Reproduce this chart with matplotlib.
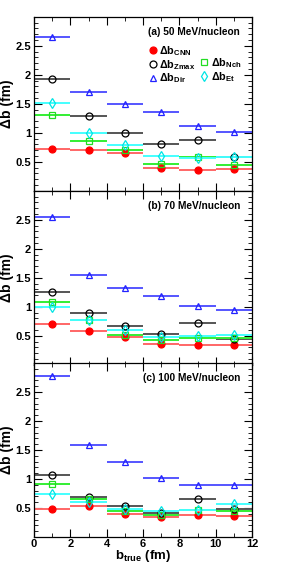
import numpy as np
import matplotlib
matplotlib.use("Agg")
import matplotlib.pyplot as plt
from matplotlib.ticker import MultipleLocator
from matplotlib.lines import Line2D

plt.rcParams['font.family'] = ['Liberation Sans', 'DejaVu Sans']
plt.rcParams['mathtext.fontset'] = 'custom'
plt.rcParams['mathtext.rm'] = 'Liberation Sans:bold'
plt.rcParams['mathtext.bf'] = 'Liberation Sans:bold'
plt.rcParams['mathtext.it'] = 'Liberation Sans:bold'

b_true = [1, 3, 5, 7, 9, 11]
bin_half = 1.0

panel_titles = ["(a) 50 MeV/nucleon", "(b) 70 MeV/nucleon", "(c) 100 MeV/nucleon"]

# resolution per method, one list per energy
cnn = [[0.72, 0.71, 0.65, 0.39, 0.36, 0.37],
       [0.71, 0.58, 0.48, 0.36, 0.345, 0.345],
       [0.49, 0.53, 0.40, 0.35, 0.38, 0.355]]
zmax = [[1.93, 1.29, 1.00, 0.81, 0.87, 0.575],
        [1.25, 0.90, 0.67, 0.53, 0.72, 0.45],
        [1.07, 0.69, 0.54, 0.41, 0.65, 0.49]]
nch = [[1.30, 0.86, 0.71, 0.46, 0.575, 0.44],
       [1.08, 0.77, 0.52, 0.43, 0.455, 0.455],
       [0.91, 0.66, 0.455, 0.375, 0.465, 0.44]]
bdir = [[2.65, 1.71, 1.50, 1.36, 1.11, 1.02],
        [2.54, 1.55, 1.33, 1.19, 1.01, 0.95],
        [2.78, 1.58, 1.30, 1.02, 0.90, 0.90]]
et = [[1.52, 0.99, 0.79, 0.60, 0.56, 0.575],
      [1.00, 0.77, 0.60, 0.48, 0.49, 0.51],
      [0.74, 0.60, 0.48, 0.45, 0.465, 0.57]]

series = [
    ("CNN", cnn, "#ff0000", "o", "#ff0000", "#ff6666"),
    ("Zmax", zmax, "#000000", "o", "none", "#555555"),
    ("Nch", nch, "#22dd22", "s", "none", "#33ee33"),
    ("Dir", bdir, "#2222ff", "^", "none", "#5555ff"),
    ("Et", et, "#00e5e5", "d", "none", "#44ffff"),
]

fig = plt.figure(figsize=(2.87, 5.63), dpi=100)
left, width, h = 0.1185, 0.7596, 0.309
bottoms = [0.6612, 0.3522, 0.0462]

for k in range(3):
    ax = fig.add_axes([left, bottoms[k], width, h])
    handles = {}
    for name, vals, col, mk, fc, lc in series:
        ax.errorbar(b_true, vals[k], xerr=bin_half, fmt='none', ecolor=lc,
                    elinewidth=1.4, capsize=0, zorder=2)
        ln, = ax.plot(b_true, vals[k], linestyle='none', marker=mk, ms=5,
                      mfc=fc, mec=col, mew=0.9, zorder=3)
        handles[name] = ln
    ax.set_xlim(0, 12)
    ax.set_ylim(0, 3)
    ax.xaxis.set_major_locator(MultipleLocator(2))
    ax.xaxis.set_minor_locator(MultipleLocator(1))
    ax.yaxis.set_major_locator(MultipleLocator(0.5))
    ax.yaxis.set_minor_locator(MultipleLocator(0.1))
    ax.tick_params(which='both', direction='in', top=True, right=True,
                   labelsize=8, pad=2)
    ax.tick_params(axis='x', pad=1.5)
    ax.tick_params(which='major', length=6, width=0.8)
    ax.tick_params(which='minor', length=3, width=0.6)
    ax.set_yticks([0.5, 1, 1.5, 2, 2.5])
    ax.set_yticklabels(["0.5", "1", "1.5", "2", "2.5"], fontweight='bold')
    if k < 2:
        ax.set_xticklabels([])
    else:
        ax.set_xticks([0, 2, 4, 6, 8, 10, 12])
        ax.set_xticklabels(["0", "2", "4", "6", "8", "10", "12"],
                           fontweight='bold')
        ax.set_xlabel(r"b$_{\mathrm{true}}$ (fm)", fontsize=9.5,
                      fontweight='bold', va='top')
        ax.xaxis.set_label_coords(0.5, -0.064)
    ax.set_ylabel("Δb (fm)", fontsize=10, fontweight='bold')
    ax.yaxis.set_label_coords(-0.09, 0.5)
    for s in ax.spines.values():
        s.set_linewidth(0.9)
    ax.text(0.945, 0.915, panel_titles[k], transform=ax.transAxes,
            ha='right', va='center', fontsize=7.3, fontweight='bold')
    if k == 0:
        blank = Line2D([], [], linestyle='none', marker='none')
        hs = [handles["CNN"], handles["Zmax"], handles["Dir"], blank,
              handles["Nch"], handles["Et"]]
        labs = [r"Δb$_{\mathrm{CNN}}$", r"Δb$_{\mathrm{Zmax}}$",
                r"Δb$_{\mathrm{Dir}}$", "", r"Δb$_{\mathrm{Nch}}$",
                r"Δb$_{\mathrm{Et}}$"]
        ax.legend(hs, labs, ncol=2, loc='upper right',
                  bbox_to_anchor=(0.975, 0.875), frameon=False,
                  handlelength=0.7, handletextpad=0.25,
                  columnspacing=0.45, labelspacing=0.0,
                  borderpad=0.0, prop={'weight': 'bold', 'size': 7.8})

fig.savefig("out.png", dpi=100)
